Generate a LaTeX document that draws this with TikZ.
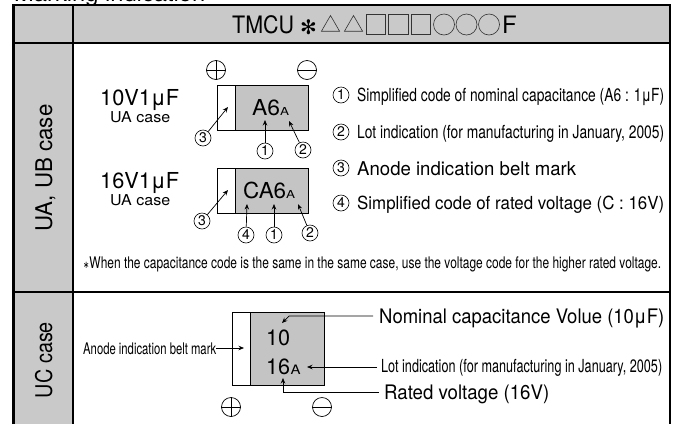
\documentclass[tikz,border=0pt]{standalone}
\usepackage{fontspec}
\usepackage{graphicx}
\setmainfont{TeX Gyre Heros}
\newfontfamily\djv{DejaVu Sans}
\usetikzlibrary{arrows.meta,shapes.geometric}
\newcommand{\fitw}[2]{\resizebox{#1pt}{\height}{#2}}
\newcommand{\fs}[1]{\fontsize{#1pt}{#1pt}\selectfont}
\tikzset{
  txt/.style={anchor=base west,inner sep=0pt,text=black},
  cell/.style={fill=cellgray,draw=none},
  rule/.style={line width=2.4pt,draw=black},
  belt/.style={draw=black,line width=0.8pt,fill=white,inner sep=0pt,anchor=north west},
  body/.style={draw=black,line width=0.8pt,fill=chipgray,inner sep=0pt,anchor=north west},
  num/.style={circle,draw=black,line width=0.6pt,inner sep=0pt,minimum size=16pt,font=\fs{14}},
  pol/.style={circle,draw=black,line width=0.7pt,minimum size=19pt,inner sep=0pt},
  arr/.style={-{Stealth[length=5.5pt,width=4.5pt]},line width=0.7pt,draw=black},
  hsym/.style={draw=black!80,line width=0.6pt,inner sep=0pt},
}
\definecolor{cellgray}{HTML}{C9C9C9}
\definecolor{chipgray}{HTML}{C4C4C4}
\begin{document}
\begin{tikzpicture}[x=1pt,y=-1pt]
\useasboundingbox (0,0) rectangle (674,424);
\clip (0,0) rectangle (674,424);
\fill[white] (0,0) rectangle (674,424);
% title
\node[txt] (title) at (14,1.5) {\fitw{191}{\fs{22}Marking indication}};
% cells
\fill[cell] (13,5) rectangle (670,43);
\fill[cell] (13,43) rectangle (73,424);
\draw[rule] (13.5,424) -- (13.5,5) -- (670,5) -- (670,424);
\draw[rule] (13.5,43) -- (670,43);
\draw[rule] (13.5,292) -- (670,292);
\draw[rule] (73,5) -- (73,424);
% header
\node[txt] (tmcu) at (232,33) {\fitw{62}{\fs{24}TMCU}};
\node[inner sep=0pt,font=\djv\fs{20}] (star) at (308.5,27) {✻};
\node[hsym,regular polygon,regular polygon sides=3,minimum size=21pt] (t1) at (330.5,26) {};
\node[hsym,regular polygon,regular polygon sides=3,minimum size=21pt] (t2) at (353.5,26) {};
\node[hsym,minimum size=19.5pt] (s1) at (376,24.5) {};
\node[hsym,minimum size=19.5pt] (s2) at (398.5,24.5) {};
\node[hsym,minimum size=19.5pt] (s3) at (421,24.5) {};
\node[hsym,circle,minimum size=21pt] (c1) at (444,24.5) {};
\node[hsym,circle,minimum size=21pt] (c2) at (466.5,24.5) {};
\node[hsym,circle,minimum size=21pt] (c3) at (489,24.5) {};
\node[txt] (fF) at (502,33) {\fs{24}F};
% side labels
\node[rotate=90,inner sep=0pt,anchor=base] (ua) at (52,168) {\fitw{127}{\fs{23}UA, UB case}};
\node[rotate=90,inner sep=0pt,anchor=base] (uc) at (52,360) {\fitw{76}{\fs{23}UC case}};
% left voltages
\node[txt] (v1) at (100,105) {\fitw{79}{\fs{22}10V1μF}};
\node[txt] (u1) at (110,122) {\fitw{60}{\fs{15}UA case}};
\node[txt] (v2) at (100,188) {\fitw{79}{\fs{22}16V1μF}};
\node[txt] (u2) at (110,205) {\fitw{60}{\fs{15}UA case}};
% polarity
\node[pol] (p1) at (216,70) {};
\draw[line width=0.7pt] (p1.north) -- (p1.south) (p1.west) -- (p1.east);
\node[pol] (m1) at (307,70) {};
\draw[line width=0.7pt] (m1.west) -- (m1.east);
% chip 1
\node[belt,minimum width=18pt,minimum height=45pt] (beltA) at (217,85) {};
\node[body,minimum width=73pt,minimum height=45pt] (chipa) at (234.5,85) {};
\node[txt] (a1) at (252,115) {\fitw{28}{\fs{22}A6}};
\node[txt] (a1b) at (280,115) {\fitw{9}{\fs{11}A}};
\coordinate (a3t) at (228,107);
\coordinate (a1t) at (265,120);
\coordinate (a2t) at (289,121);
\node[num] (n13) at (203,138) {3};
\node[num] (n11) at (265,151) {1};
\node[num] (n12) at (303,150) {2};
\draw[arr] (n13) -- (a3t);
\draw[arr] (n11) -- (a1t);
\draw[arr] (n12) -- (a2t);
% chip 2
\node[belt,minimum width=18pt,minimum height=45pt] (beltB) at (217,168) {};
\node[body,minimum width=73pt,minimum height=45pt] (chipb) at (234.5,168) {};
\node[txt] (b1) at (243,198) {\fitw{43}{\fs{22}CA6}};
\node[txt] (b1b) at (286,198) {\fitw{9}{\fs{11}A}};
\coordinate (b3t) at (228,190);
\coordinate (b4t) at (247,204);
\coordinate (b1t) at (274,204);
\coordinate (b2t) at (298,204);
\node[num] (n23) at (202,221) {3};
\node[num] (n24) at (246,235) {4};
\node[num] (n21) at (274,235) {1};
\node[num] (n22) at (310,233) {2};
\draw[arr] (n23) -- (b3t);
\draw[arr] (n24) -- (b4t);
\draw[arr] (n21) -- (b1t);
\draw[arr] (n22) -- (b2t);
% legend
\node[num] (l1) at (341,95) {1};
\node[num] (l2) at (341,132) {2};
\node[num] (l3) at (341,168) {3};
\node[num] (l4) at (341,203) {4};
\node[txt] (t1l) at (357,101) {\fitw{307}{\fs{18}Simplified code of nominal capacitance (A6 : 1μF)}};
\node[txt] (t2l) at (357,138) {\fitw{307}{\fs{18}Lot indication (for manufacturing in January, 2005)}};
\node[txt] (t3l) at (357,175) {\fitw{219}{\fs{19}Anode indication belt mark}};
\node[txt] (t4l) at (357,209) {\fitw{307}{\fs{18}Simplified code of rated voltage (C : 16V)}};
% footnote
\node[txt] (fn) at (83,268) {\fitw{578}{\fs{16}{\djv\fs{10}∗}When the capacitance code is the same in the same case, use the voltage code for the higher rated voltage.}};
% UC chip
\node[belt,minimum width=18pt,minimum height=73pt] (beltC) at (232,312) {};
\node[body,minimum width=74pt,minimum height=73pt] (chipc) at (249.5,312) {};
\node[txt] (c10) at (266,345) {\fitw{24}{\fs{22}10}};
\node[txt] (c16) at (266,374) {\fitw{24}{\fs{22}16}};
\node[txt] (c16b) at (290.5,374) {\fitw{10}{\fs{13}A}};
\node[txt] (abm) at (83,354) {\fitw{133}{\fs{16}Anode indication belt mark}};
\coordinate (abms) at (216,348);
\coordinate (abmt) at (244,348);
\draw[arr] (abms) -- (abmt);
\node[txt] (nom) at (379,323) {\fitw{285}{\fs{20}Nominal capacitance Volue (10μF)}};
\node[txt] (lot) at (381,372) {\fitw{281}{\fs{18}Lot indication (for manufacturing in January, 2005)}};
\node[txt] (rat) at (384,399) {\fitw{165}{\fs{20}Rated voltage (16V)}};
\coordinate (noms) at (373,316);
\coordinate (nomk) at (289,316);
\coordinate (nomt) at (282,323);
\coordinate (lots) at (377,367);
\coordinate (lott) at (307,367);
\coordinate (rats) at (379,392);
\coordinate (ratk) at (283,392);
\coordinate (ratt) at (283,378);
\draw[arr] (noms) -- (nomk) -- (nomt);
\draw[arr] (lots) -- (lott);
\draw[arr] (rats) -- (ratk) -- (ratt);
\node[pol] (p2) at (231,407) {};
\draw[line width=0.7pt] (p2.north) -- (p2.south) (p2.west) -- (p2.east);
\node[pol] (m2) at (322,407) {};
\draw[line width=0.7pt] (m2.west) -- (m2.east);
\end{tikzpicture}
\end{document}
